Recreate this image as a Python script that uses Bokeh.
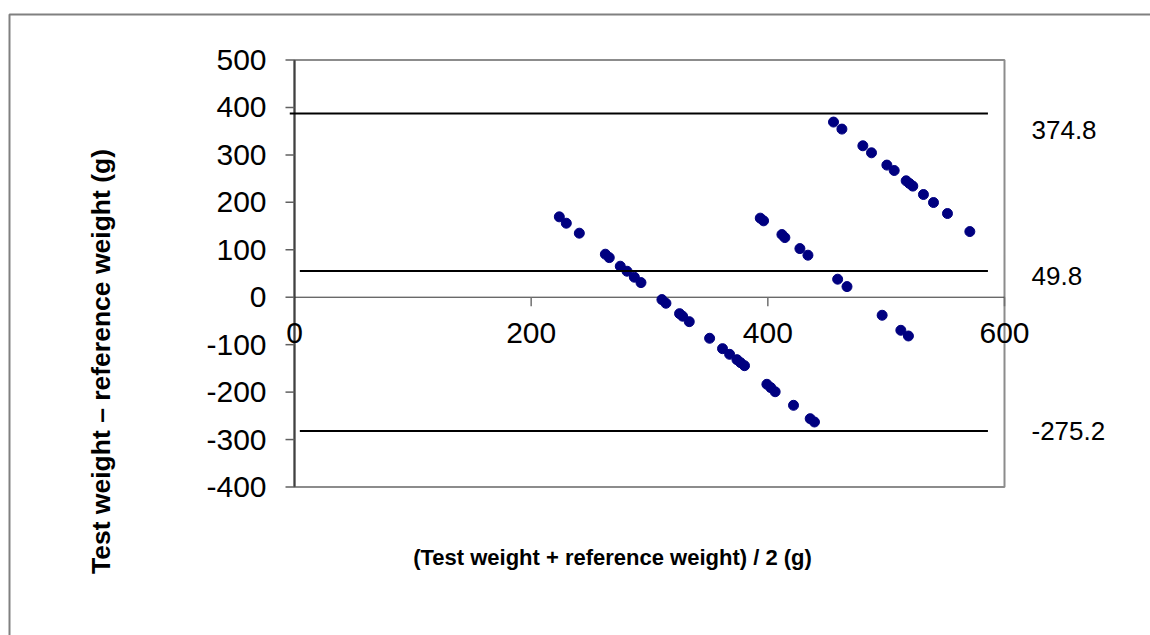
import math
from bokeh.plotting import figure
from bokeh.models import Range1d
from bokeh.embed import file_html
from bokeh.resources import INLINE
from bokeh.core.properties import value

# ---- data ----
mean_weight = [223.8, 229.7, 240.7, 262.7, 266.0, 275.3, 281.0, 287.2, 292.8, 310.5,
               313.9, 325.4, 328.0, 333.6, 350.8, 361.7, 367.7, 373.9, 377.0, 380.3,
               399.2, 402.5, 406.2, 421.7, 435.8, 439.4, 393.6, 396.4, 411.9, 414.4,
               427.1, 433.9, 459.0, 466.9, 496.6, 512.4, 518.8, 455.5, 462.6, 480.3,
               487.6, 500.6, 506.8, 516.9, 519.7, 522.5, 531.5, 540.0, 551.8, 570.7]
diff_weight = [169.4, 156.0, 135.0, 90.7, 83.5, 65.4, 54.8, 42.2, 30.8, -5.0,
               -12.7, -34.6, -40.0, -51.5, -86.5, -108.4, -120.3, -131.6, -138.0, -144.3,
               -183.5, -190.5, -199.2, -227.8, -256.0, -263.0, 166.7, 161.0, 132.1, 125.7,
               102.5, 88.6, 38.0, 22.4, -38.0, -69.7, -81.7, 369.2, 354.4, 319.2,
               304.4, 278.5, 267.1, 245.4, 239.7, 234.2, 216.5, 199.6, 176.4, 138.4]

limit_labels = ["374.8", "49.8", "-275.2"]
limit_line_levels = [387.3, 55.5, -282.0]      # where the drawn lines sit
limit_line_start = [-4.0, 4.5, 4.5]
limit_line_end = [586.0, 586.0, 586.0]
limit_label_levels = [353.0, 45.0, -282.0]     # where the label texts sit

x_ticks = [0, 200, 400, 600]
y_ticks = [-400, -300, -200, -100, 0, 100, 200, 300, 400, 500]
x_title = "(Test weight + reference weight) / 2 (g)"
y_title = "Test weight \u2013 reference weight (g)"

# ---- layout (pixels) ----
FONT = "Liberation Sans"
W, H = 1150, 635
PL, PR, PT, PB = 294.0, 1004.0, 59.5, 486.5     # plot-area box on the canvas
X_MIN, X_MAX, Y_MIN, Y_MAX = 0, 600, -400, 500
sx = (PR - PL) / (X_MAX - X_MIN)
sy = (PB - PT) / (Y_MAX - Y_MIN)


def dx(px):
    return X_MIN + (px - PL) / sx


def dy(py):
    return Y_MAX - (py - PT) / sy


p = figure(width=W, height=H,
           x_range=Range1d(dx(0), dx(W)), y_range=Range1d(dy(H), dy(0)),
           output_backend="svg", toolbar_location=None,
           x_axis_location=None, y_axis_location=None,
           min_border=0)
p.grid.visible = False
p.outline_line_color = None
p.background_fill_color = "white"
p.border_fill_color = "white"

# outer chart frame
p.quad(left=[dx(9)], right=[dx(W + 40)], top=[dy(14)], bottom=[dy(H + 40)],
       fill_color=None, line_color="#808080", line_width=2)

# plot-area box (top / right / bottom in grey)
p.quad(left=[X_MIN], right=[X_MAX], top=[Y_MAX], bottom=[Y_MIN],
       fill_color=None, line_color="#8c8c8c", line_width=2)

# vertical axis
p.segment(x0=[X_MIN], y0=[Y_MIN], x1=[X_MIN], y1=[Y_MAX],
          line_color="#404040", line_width=2)
tick_x = 9 / sx
p.segment(x0=[X_MIN] * len(y_ticks), y0=y_ticks,
          x1=[X_MIN - tick_x] * len(y_ticks), y1=y_ticks,
          line_color="#606060", line_width=1.5)
p.text(x=[X_MIN] * len(y_ticks), y=y_ticks, text=[str(t) for t in y_ticks],
       x_offset=-28, text_align="right", text_baseline="middle",
       text_font=value(FONT), text_font_size=value("30px"), text_color="black")

# horizontal axis crossing at zero
p.segment(x0=[X_MIN], y0=[0], x1=[X_MAX], y1=[0], line_color="#303030", line_width=1)
tick_y = 9 / sy
p.segment(x0=x_ticks[1:], y0=[0] * 3, x1=x_ticks[1:], y1=[-tick_y] * 3,
          line_color="#707070", line_width=1.5)
p.text(x=x_ticks, y=[0] * len(x_ticks), text=[str(t) for t in x_ticks],
       y_offset=36, text_align="center", text_baseline="middle",
       text_font=value(FONT), text_font_size=value("30px"), text_color="black")

# data points
p.scatter(mean_weight, diff_weight, size=10, fill_color="#000080",
          line_color="#000080", marker="circle")

# limit lines and their labels
p.segment(x0=limit_line_start, y0=limit_line_levels, x1=limit_line_end,
          y1=limit_line_levels, line_color="black", line_width=2)
p.text(x=[X_MAX] * 3, y=limit_label_levels, text=limit_labels, x_offset=27,
       text_align="left", text_baseline="middle",
       text_font=value(FONT), text_font_size=value("26px"), text_color="black")

# axis titles
p.text(x=[dx(612)], y=[dy(557)], text=[x_title], text_align="center",
       text_baseline="middle", text_font=value(FONT),
       text_font_style=value("bold"), text_font_size=value("22px"),
       text_color="black")
p.text(x=[dx(100)], y=[dy(361)], text=[y_title], angle=math.pi / 2,
       text_align="center", text_baseline="middle", text_font=value(FONT),
       text_font_style=value("bold"), text_font_size=value("26.5px"),
       text_color="black")

open("out.html", "w").write(file_html(p, INLINE))
